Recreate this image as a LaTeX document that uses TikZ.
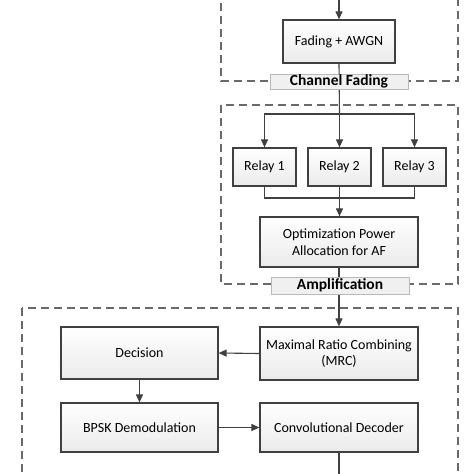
\documentclass[tikz,border=0pt]{standalone}
\usepackage{fontspec}
\setmainfont{Carlito}
\usetikzlibrary{arrows.meta,shadows}

\definecolor{linegray}{HTML}{404040}
\definecolor{dashgray}{HTML}{6A6A6A}

\tikzset{
	block/.style={draw=linegray, line width=1.2pt, top color=white, bottom color=gray!16,
		align=center, font=\fontsize{14}{16.5}\selectfont, inner sep=0pt,
		drop shadow={opacity=0.25, shadow xshift=1.2pt, shadow yshift=-1.2pt}},
	tag/.style={draw=gray!55, line width=0.4pt, fill=gray!12, inner sep=0pt,
		font=\fontsize{15.5}{17}\selectfont\bfseries},
	stage/.style={draw=dashgray, line width=1.3pt, dash pattern=on 8pt off 5pt},
	flow/.style={draw=linegray, line width=1.1pt, -{Triangle[length=8pt,width=7pt]}},
	wire/.style={draw=linegray, line width=1.1pt}
}

\begin{document}
\begin{tikzpicture}[x=1pt, y=-1pt]

		\useasboundingbox (0,0) rectangle (474,474);
		\clip (0,0) rectangle (474,474);
		\fill[white] (0,0) rectangle (474,474);

		% stages
		\draw[stage] (221,-10) rectangle (458,81);
		\draw[stage] (221,105) rectangle (458,284);
		\draw[stage] (22,308) rectangle (458,490);

		% blocks
		\node[block, minimum width=112pt, minimum height=43pt] (fading) at (339,41.5) {Fading + AWGN};

		\node[block, minimum width=63pt, minimum height=38pt] (relayA) at (264.5,167) {Relay 1};
		\node[block, minimum width=63pt, minimum height=38pt] (relayB) at (339.5,167) {Relay 2};
		\node[block, minimum width=63pt, minimum height=38pt] (relayC) at (414.5,167) {Relay 3};

		\node[block, minimum width=158pt, minimum height=50pt] (opa) at (339,242) {Optimization Power\\Allocation for AF};

		\node[block, minimum width=158pt, minimum height=53pt] (mrc) at (339,353.5) {Maximal Ratio Combining\\(MRC)};
		\node[block, minimum width=157pt, minimum height=52pt] (decision) at (139.5,353) {Decision};
		\node[block, minimum width=157pt, minimum height=49pt] (bpsk) at (139.5,427.5) {BPSK Demodulation};
		\node[block, minimum width=158pt, minimum height=49pt] (decoder) at (339,427.5) {Convolutional Decoder};

		% connectors
		\coordinate (input) at (339,-10);
		\coordinate (output) at (339,490);
		\coordinate (split) at (339.5,114);
		\coordinate (merge) at (339.5,198);

		\draw[flow] (input) -- (fading.north);
		\draw[wire] (fading.south) -- (split);
		\draw[flow] (split) -- (relayB.north);
		\draw[flow] (split) -| (relayA.north);
		\draw[flow] (split) -| (relayC.north);
		\draw[wire] (relayA.south) |- (merge);
		\draw[wire] (relayC.south) |- (merge);
		\draw[wire] (relayB.south) -- (merge);
		\draw[flow] (merge) -- (merge |- opa.north);
		\draw[flow] (opa.south) -- (mrc.north);
		\draw[flow] (mrc.west) -- (decision.east);
		\draw[flow] (decision.south) -- (bpsk.north);
		\draw[flow] (bpsk.east) -- (decoder.west);
		\draw[flow] (decoder.south) -- (output);

		% stage tags
		\node[tag, minimum width=138pt, minimum height=15pt] (fadingtag) at (339,81.5) {Channel Fading};
		\node[tag, minimum width=138pt, minimum height=17pt] (amptag) at (340,285.5) {Amplification};

	\end{tikzpicture}
\end{document}
